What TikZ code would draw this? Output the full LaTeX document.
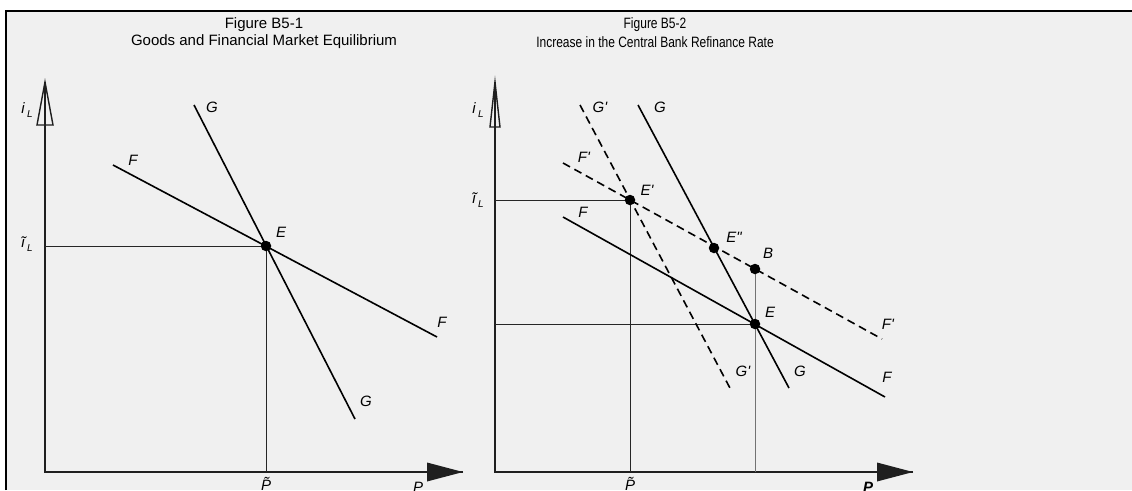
\documentclass[tikz,border=0pt]{standalone}
\usepackage{fontspec}
\setmainfont{Liberation Sans}
\usetikzlibrary{arrows.meta}
\definecolor{ozadje}{HTML}{F0F0F0}
\tikzset{
	graf/.style={x=1pt, y=-1pt, line join=miter},
	os/.style={line width=2.2pt, draw=black!88},
	krivulja/.style={line width=1.6pt},
	premik/.style={krivulja, dash pattern=on 8pt off 5pt},
	vodilo/.style={line width=1pt, draw=black!85},
	tocka/.style={circle, fill=black, inner sep=0pt, minimum size=10.5pt},
	oznaka/.style={font=\fontsize{15}{15}\selectfont\itshape, inner sep=0pt},
	naslov/.style={font=\fontsize{15}{17}\selectfont, inner sep=0pt},
	polna/.style={fill=black!88},
	odprta/.style={draw=black!88, line width=1.4pt},
}
\newcommand{\osiL}{\textit{i}\,\raisebox{-0.45ex}{\fontsize{10}{10}\selectfont\textit{L}}}
\newcommand{\osiLt}{\textit{ĩ}\,\raisebox{-0.45ex}{\fontsize{10}{10}\selectfont\textit{L}}}
\newcommand{\pr}{\textquotesingle}

\begin{document}
\begin{tikzpicture}[graf]
\useasboundingbox (0,0) rectangle (1132,490);
\fill[ozadje] (6,11) rectangle (1132,490);
\draw[line width=1.5pt] (6,490) -- (6,11) -- (1132,11);

% ---------- naslova ----------
\node[naslov] (n1a) at (264,25) {Figure B5-1};
\node[naslov] (n1b) at (264,42) {Goods and Financial Market Equilibrium};
\node[naslov] (n2a) at (655,25) {\scalebox{0.8}[1]{Figure B5-2}};
\node[naslov] (n2b) at (655,42) {\scalebox{0.8}[1]{Increase in the Central Bank Refinance Rate}};

% ---------- slika 1 ----------
\coordinate (o1) at (45,472);
\coordinate (y1) at (45,82);
\coordinate (x1) at (463,472);
\draw[os] (y1) -- (o1) -- (x1);
\draw[odprta] (y1) -- ++(-8,43) -- ++(16,0) -- cycle;
\fill[polna] (x1) -- ++(-36,-9.5) -- ++(0,19) -- cycle;

\coordinate (e1) at (266,246);
\coordinate (f1a) at (113,165);
\coordinate (f1b) at (437,337);
\coordinate (g1a) at (194,105);
\coordinate (g1b) at (355,419);

\draw[vodilo] (o1 |- e1) -- (e1) -- (e1 |- o1);
\draw[krivulja] (f1a) -- (f1b);
\draw[krivulja] (g1a) -- (g1b);
\node[tocka] (te1) at (e1) {};

\node[oznaka] (il1) at (27,110) {\osiL};
\node[oznaka] (ilt1) at (27,244) {\osiLt};
\node[oznaka, anchor=north] (pt1) at (266,477) {\~{P}};
\node[oznaka, anchor=north] (p1) at (418,482) {P};
\node[oznaka] (lf1a) at (133,160) {F};
\node[oznaka] (lf1b) at (442,322) {F};
\node[oznaka] (lg1a) at (212,107) {G};
\node[oznaka] (lg1b) at (366,401) {G};
\node[oznaka] (le1) at (281,232) {E};

% ---------- slika 2 ----------
\coordinate (o2) at (495,472);
\coordinate (y2) at (495,82);
\coordinate (x2) at (913,472);
\draw[os] (y2) -- (o2) -- (x2);
\draw[odprta] (y2) -- ++(-5,45) -- ++(10,0) -- cycle;
\fill[polna] (x2) -- ++(-36,-9.5) -- ++(0,19) -- cycle;

\coordinate (e2) at (755,324);
\coordinate (ec) at (630,200);
\coordinate (ecc) at (714,248);
\coordinate (b2) at (755,269);
\coordinate (f2a) at (563,217);
\coordinate (f2b) at (885,397);
\coordinate (fc2a) at (563,163);
\coordinate (fc2b) at (882,339);
\coordinate (g2a) at (638,105);
\coordinate (g2b) at (789,388);
\coordinate (gc2a) at (580,105);
\coordinate (gc2b) at (731,390);

\draw[vodilo] (o2 |- ec) -- (ec) -- (ec |- o2);
\draw[vodilo] (o2 |- e2) -- (e2);
\draw[vodilo, draw=black!55] (b2) -- (b2 |- o2);
\draw[krivulja] (f2a) -- (f2b);
\draw[krivulja] (g2a) -- (g2b);
\draw[premik] (fc2a) -- (fc2b);
\draw[premik] (gc2a) -- (gc2b);
\node[tocka] (te2) at (e2) {};
\node[tocka] (tec) at (ec) {};
\node[tocka] (tecc) at (ecc) {};
\node[tocka] (tb2) at (b2) {};

\node[oznaka] (il2) at (478,110) {\osiL};
\node[oznaka] (ilt2) at (478,200) {\osiLt};
\node[oznaka, anchor=north] (pt2) at (630,477) {\~{P}};
\node[oznaka, anchor=north, font=\fontsize{15}{15}\selectfont\bfseries\itshape] (p2) at (868,482) {P};
\node[oznaka] (lgc2a) at (600,107) {G\pr};
\node[oznaka] (lg2a) at (660,107) {G};
\node[oznaka] (lfc2a) at (584,157) {F\pr};
\node[oznaka] (lf2a) at (583,212) {F};
\node[oznaka] (lec) at (647,190) {E\pr};
\node[oznaka] (lecc) at (734,237) {E\textquotedbl};
\node[oznaka] (lb2) at (768,253) {B};
\node[oznaka] (le2) at (770,312) {E};
\node[oznaka] (lfc2b) at (888,324) {F\pr};
\node[oznaka] (lgc2b) at (743,371) {G\pr};
\node[oznaka] (lg2b) at (800,371) {G};
\node[oznaka] (lf2b) at (887,377) {F};

\end{tikzpicture}
\end{document}
